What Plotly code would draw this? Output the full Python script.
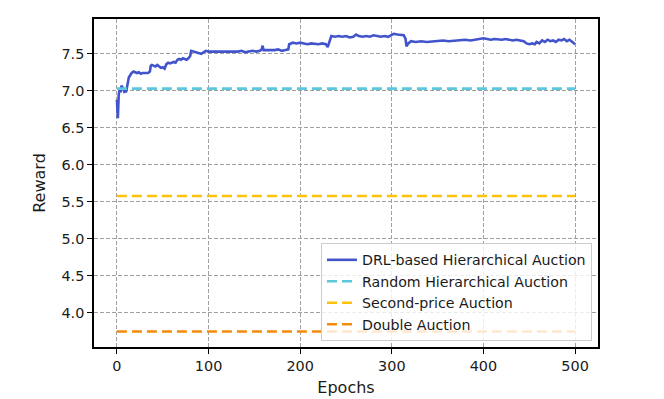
import plotly.graph_objects as go

# epochs sampled from the DRL curve and the reward read at each one
drl_epochs = [0, 1, 2, 3, 4, 5, 6, 7, 8, 9, 10, 11, 12, 13, 14,
              16, 18, 20, 22, 24, 26, 28, 30, 32, 34, 36,
              37, 38, 40, 42, 44, 46, 48, 50, 52, 54, 56, 58, 60, 62, 64,
              66, 68, 70, 72, 74, 76, 78, 80, 81, 83, 86, 89, 92, 95,
              97, 100, 104, 108, 112, 116, 120, 124, 128, 132, 136, 140, 144, 148,
              152, 156, 158, 159, 160, 164, 168, 172, 176, 180, 184, 187,
              188, 192, 196, 200, 204, 208, 212, 216, 220, 224, 228, 230, 232,
              234, 238, 242, 246, 250, 254, 258, 261, 264, 268, 272, 276,
              280, 284, 288, 292, 296, 299, 302, 306, 310, 313, 315, 316, 318,
              321, 326, 332, 338, 344, 350, 356, 362, 368, 374, 380, 386, 392,
              396, 400, 404, 408, 412, 416, 420, 424, 428, 432, 436, 440, 444,
              447, 450, 453, 456, 458, 461, 464, 467, 470, 473, 476, 479, 482,
              485, 488, 491, 494, 497, 500]
drl_reward = [6.88, 6.63, 6.95, 7.02, 6.98, 7.07, 7.05, 7.00, 6.99, 7.00, 6.98, 7.05, 7.12, 7.18, 7.20,
              7.24, 7.26, 7.25, 7.24, 7.25, 7.23, 7.24, 7.24, 7.23, 7.24, 7.26,
              7.34, 7.35, 7.34, 7.33, 7.35, 7.33, 7.31, 7.32, 7.30, 7.36, 7.38, 7.37, 7.38, 7.39, 7.38,
              7.42, 7.43, 7.42, 7.44, 7.43, 7.42, 7.44, 7.47, 7.54, 7.53, 7.52, 7.51, 7.50, 7.52,
              7.54, 7.53, 7.53, 7.52, 7.53, 7.53, 7.52, 7.53, 7.52, 7.53, 7.54, 7.52, 7.53, 7.54,
              7.53, 7.54, 7.56, 7.61, 7.55, 7.55, 7.54, 7.55, 7.56, 7.54, 7.55, 7.56,
              7.63, 7.65, 7.64, 7.65, 7.64, 7.63, 7.64, 7.63, 7.63, 7.64, 7.63, 7.59, 7.66,
              7.74, 7.73, 7.74, 7.73, 7.74, 7.72, 7.73, 7.76, 7.74, 7.73, 7.74, 7.73,
              7.75, 7.74, 7.73, 7.74, 7.73, 7.75, 7.77, 7.76, 7.76, 7.75, 7.70, 7.60, 7.64,
              7.67, 7.66, 7.67, 7.66, 7.67, 7.67, 7.68, 7.67, 7.68, 7.68, 7.69, 7.68, 7.69,
              7.70, 7.71, 7.70, 7.69, 7.70, 7.69, 7.69, 7.70, 7.69, 7.68, 7.69, 7.68, 7.67,
              7.64, 7.63, 7.64, 7.63, 7.66, 7.64, 7.68, 7.66, 7.69, 7.67, 7.68, 7.66, 7.69,
              7.68, 7.70, 7.67, 7.69, 7.66, 7.63]

# baselines are flat over the whole run
baseline_epochs = [0, 500]
random_reward = [7.03, 7.03]
second_price_reward = [5.58, 5.58]
double_reward = [3.75, 3.75]

y_ticks = [4.0, 4.5, 5.0, 5.5, 6.0, 6.5, 7.0, 7.5]
x_ticks = [0, 100, 200, 300, 400, 500]

dash = '10px,5px'
fig = go.Figure()
fig.add_trace(go.Scatter(x=drl_epochs, y=drl_reward, mode='lines',
                         name='DRL-based Hierarchical Auction',
                         line=dict(color='#4254cc', width=2.6)))
fig.add_trace(go.Scatter(x=baseline_epochs, y=random_reward, mode='lines',
                         name='Random Hierarchical Auction',
                         line=dict(color='#5bc8dc', width=2.6, dash=dash)))
fig.add_trace(go.Scatter(x=baseline_epochs, y=second_price_reward, mode='lines',
                         name='Second-price Auction',
                         line=dict(color='#fcc30b', width=2.6, dash=dash)))
fig.add_trace(go.Scatter(x=baseline_epochs, y=double_reward, mode='lines',
                         name='Double Auction',
                         line=dict(color='#f58b0c', width=2.6, dash=dash)))

axis_style = dict(showline=True, linecolor='black', linewidth=1.5, mirror=True,
                  ticks='outside', ticklen=5, tickwidth=1.2, tickcolor='black',
                  showgrid=True, gridcolor='#a0a0a0', griddash='4px,2px', gridwidth=1,
                  zeroline=False, automargin=False,
                  tickfont=dict(size=14.4, color='#1a1a1a'))

# the page body adds an 8px offset, so the figure is a bit smaller than the window
fig.update_layout(
    width=656, height=391,
    margin=dict(l=86, r=66, t=11, b=52),
    paper_bgcolor='white', plot_bgcolor='white',
    font=dict(family='DejaVu Sans', size=14.4, color='#1a1a1a'),
    xaxis=dict(range=[-25, 525], tickvals=x_ticks,
               title=dict(text='Epochs', font=dict(size=16), standoff=9), **axis_style),
    yaxis=dict(range=[3.54, 7.97], tickvals=y_ticks, tickformat='.1f',
               title=dict(text='Reward', font=dict(size=16), standoff=12), **axis_style),
    legend=dict(x=0.988, y=0.018, xanchor='right', yanchor='bottom',
                bgcolor='rgba(255,255,255,0.8)', bordercolor='#cccccc', borderwidth=1,
                font=dict(size=14.2, color='#1a1a1a')),
    showlegend=True,
)

fig.write_html("out.html")
